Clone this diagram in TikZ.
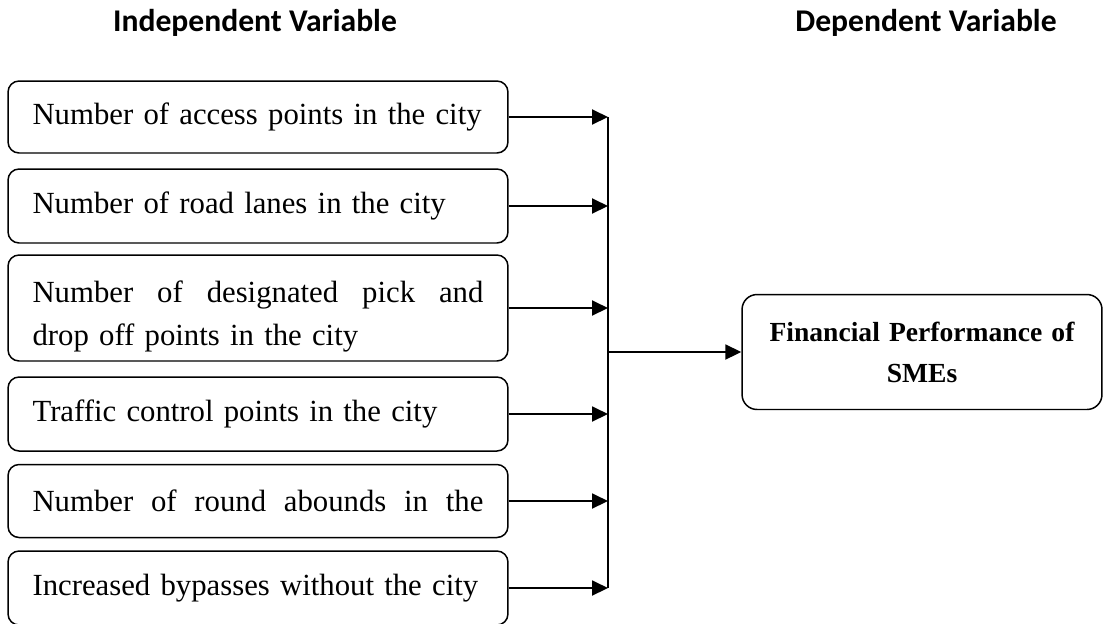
\documentclass[tikz,border=0pt]{standalone}
\usepackage{fontspec}
\setmainfont{Liberation Serif}
\newfontfamily\hdrfont{Carlito}
\usetikzlibrary{arrows.meta,positioning,calc}

\begin{document}
\begin{tikzpicture}[x=0.02cm, y=-0.02cm,
  ivbox/.style={rectangle, rounded corners=0.22cm, draw, line width=0.85pt,
                minimum width=10cm, text width=9.02cm, inner sep=0pt,
                align=left, font=\fontsize{17.5}{24}\selectfont},
  dvbox/.style={rectangle, rounded corners=0.3cm, draw, line width=0.85pt,
                minimum width=7.2cm, minimum height=2.3cm, text width=6.8cm,
                align=center, font=\fontsize{15.7}{23.3}\selectfont\bfseries},
  hdr/.style={font=\hdrfont\bfseries\fontsize{18}{22}\selectfont},
  conn/.style={-{Triangle[length=0.32cm,width=0.3cm]}, line width=1.1pt},
  bus/.style={line width=1.1pt}
]
\path[use as bounding box] (0,0) rectangle (1104,623);

% Headings
\node[hdr] (indep) at (255,23) {Independent Variable};
\node[hdr] (dep)   at (926,23) {Dependent Variable};

% Independent variables
\node[ivbox, minimum height=1.44cm] (acc) at (258,117) {Number of access points in the city};
\node[ivbox, minimum height=1.48cm] (lan) at (258,206) {Number of road lanes in the city};
\node[ivbox, minimum height=2.12cm] (pck) at (258,308)
  {\rule{0pt}{22pt}\makebox[9.02cm][l]{Number\hfill of\hfill designated\hfill pick\hfill and}\\drop off points in the city};
\node[ivbox, minimum height=1.48cm] (trf) at (258,414) {Traffic control points in the city};
\node[ivbox, minimum height=1.46cm] (rnd) at (258,501)
  {\makebox[9.02cm][l]{Number\hfill of\hfill round\hfill abounds\hfill in\hfill the}};
\node[ivbox, minimum height=1.48cm] (byp) at (258,588) {Increased bypasses without the city};

% Dependent variable
\node[dvbox] (fin) at (922,352) {Financial Performance of\\SMEs};

% Bus line
\coordinate (btop) at (608,117);
\coordinate (bbot) at (608,588);
\coordinate (bmid) at (608,352);
\draw[bus] (btop) -- (bbot);

% Arrows
\foreach \n in {acc,lan,pck,trf,rnd,byp}
  \draw[conn] (\n.east) -- (\n.east -| btop);
\draw[conn] (bmid) -- (fin.west);
\end{tikzpicture}
\end{document}
